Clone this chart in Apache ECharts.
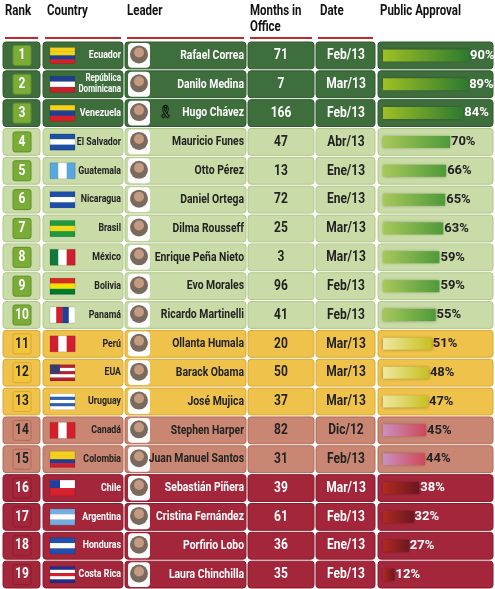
<!DOCTYPE html>
<html><head><meta charset="utf-8">
<script src="https://cdn.jsdelivr.net/npm/echarts@6/dist/echarts.min.js"></script>
<style>html,body{margin:0;padding:0;background:#fff}#c{width:495px;height:589px}</style>
</head><body><div id="c"></div>
<script>
const ranks = [1,2,3,4,5,6,7,8,9,10,11,12,13,14,15,16,17,18,19];
const countries = ['Ecuador','República\nDominicana','Venezuela','El Salvador','Guatemala','Nicaragua','Brasil','México','Bolivia','Panamá','Perú','EUA','Uruguay','Canadá','Colombia','Chile','Argentina','Honduras','Costa Rica'];
const leaders = ['Rafael Correa','Danilo Medina','Hugo Chávez','Mauricio Funes','Otto Pérez','Daniel Ortega','Dilma Rousseff','Enrique Peña Nieto','Evo Morales','Ricardo Martinelli','Ollanta Humala','Barack Obama','José Mujica','Stephen Harper','Juan Manuel Santos','Sebastián Piñera','Cristina Fernández','Porfirio Lobo','Laura Chinchilla'];
const months = [71,7,166,47,13,72,25,3,96,41,20,50,37,82,31,39,61,36,35];
const dates = ['Feb/13','Mar/13','Feb/13','Abr/13','Ene/13','Ene/13','Mar/13','Mar/13','Feb/13','Feb/13','Mar/13','Mar/13','Mar/13','Dic/12','Feb/13','Mar/13','Feb/13','Ene/13','Feb/13'];
const approval = [90,89,84,70,66,65,63,59,59,55,51,48,47,45,44,38,32,27,12];
const headers = ['Rank','Country','Leader','Months in\nOffice','Date','Public Approval'];

// styling
const flags = [
 ['h',['#f4d21a','#f4d21a','#1f3f95','#d8202a']],['h',['#1e3f8f','#fff','#c8202e']],['h',['#f4d21a','#1f3f95','#d8202a']],
 ['h',['#1f4fa0','#fff','#1f4fa0']],['v',['#5aa7e0','#fff','#5aa7e0']],['h',['#1e4fa8','#fff','#1e4fa8']],
 ['h',['#1f9a3a','#f2d81c','#1f9a3a']],['v',['#0f7a3c','#fff','#ce1f2f']],['h',['#d52b1e','#f4e100','#007a30']],
 ['v',['#fff','#d21f2f','#1e3f9a','#fff']],['v',['#d21f2f','#fff','#d21f2f']],['h',['#b22234','#fff','#b22234','#fff','#b22234']],
 ['h',['#fff','#2f5fb0','#fff','#2f5fb0','#fff']],['v',['#d51f2b','#fff','#d51f2b']],['h',['#f5d21a','#f5d21a','#1f3f95','#ce1f2f']],
 ['h',['#fff','#d3212d']],['h',['#74aee0','#fff','#74aee0']],['h',['#1f4fb0','#fff','#1f4fb0']],['h',['#1f2f8f','#fff','#d2202e','#fff','#1f2f8f']]
];
function grp(i){return i<3?0:i<10?1:i<13?2:i<15?3:4;}
const rowBg=['#3f6e3d','#c9dba6','#eec24b','#c98672','#a4263b'];
const rowBorder=['#2f5a2e','#b2c78c','#d9a935','#b26a58','#8a1c2e'];
const txtCol=['#fff','#222','#222','#222','#fff'];
const rankBox=['#7cac38','#7cac38','#f2c53d','#c98672','#a4263b'];
const rankTxt=['#fff','#fff','#222','#222','#fff'];
const barGrad=[['#9fc022','#2c7a30'],['#a8c85a','#4e9a3a'],['#eee8a0','#c8c020'],['#c890c0','#d04858'],['#b02a20','#6a1820']];
const F='Roboto,sans-serif';
const SX=0.8;

const cols=[[3,40],[43,123],[125,246],[248,314],[316,375],[378,493]];

function T(x,y,text,size,fill,align,lh){
 return {type:'text',x:x,y:y,scaleX:SX,originX:0,originY:0,
   style:{text:text,x:0,y:0,font:'bold '+size+'px '+F,fill:fill,align:align,verticalAlign:'middle',lineHeight:lh||size+2}};
}

const chart=echarts.init(document.getElementById('c'));
const graphic=[];
const hx=[5,47,127,250,320,380];
headers.forEach((h,k)=>{graphic.push({type:'text',x:hx[k],y:3,scaleX:0.82,style:{text:h,font:'bold 14px '+F,fill:'#111',lineHeight:16}});});
cols.forEach(c=>graphic.push({type:'rect',shape:{x:c[0]+2,y:37,width:c[1]-c[0]-4,height:2},style:{fill:c[0]>370?'#fff':'#c0282a'}}));

chart.setOption({
 animation:false,
 graphic:graphic,
 grid:[{left:0,right:0,top:41,bottom:0},{left:383,right:24,top:41,bottom:0}],
 xAxis:[{type:'value',min:0,max:92,show:false,gridIndex:1},{type:'value',min:0,max:495,show:false,gridIndex:0}],
 yAxis:[{type:'category',data:ranks,inverse:true,show:false,gridIndex:1},{type:'category',data:ranks,inverse:true,show:false,gridIndex:0}],
 series:[{
  type:'custom',xAxisIndex:1,yAxisIndex:1,
  data:ranks.map((r,i)=>[i]),
  renderItem:function(p,api){
   const i=api.value(0);const g=grp(i);
   const cy=api.coord([0,i])[1];const h=api.size([0,1])[1];
   const top=cy-h/2+1, hh=h-2;
   const ch=[];
   cols.forEach(c=>ch.push({type:'rect',shape:{x:c[0],y:top,width:c[1]-c[0],height:hh,r:3},style:{fill:rowBg[g],stroke:rowBorder[g],lineWidth:1}}));
   ch.push({type:'rect',shape:{x:13,y:cy-10,width:18,height:20,r:2},style:{fill:rankBox[g],stroke:g<2?'#5f8f2a':rowBorder[g]}});
   ch.push(T(22,cy,String(ranks[i]),15,rankTxt[g],'center'));
   const f=flags[i];const fx=50,fy=cy-8,fw=25,fh=16;const n=f[1].length;
   f[1].forEach((col,k)=>{ch.push({type:'rect',shape:f[0]==='h'?{x:fx,y:fy+k*fh/n,width:fw,height:fh/n+0.3}:{x:fx+k*fw/n,y:fy,width:fw/n+0.3,height:fh},style:{fill:col}});});
   ch.push({type:'rect',shape:{x:fx,y:fy,width:fw,height:fh},style:{fill:'none',stroke:'rgba(0,0,0,0.25)',lineWidth:0.5}});
   if(i===11||i===15) ch.push({type:'rect',shape:{x:fx,y:fy,width:10,height:i===11?9:8},style:{fill:i===11?'#3c3b6e':'#1f3f9a'}});
   ch.push(T(121,cy,countries[i],i===1?10:11,txtCol[g],'right',11));
   ch.push({type:'rect',shape:{x:128,y:top+1,width:22,height:hh-2,r:4},style:{fill:'#fff'}});
   ch.push({type:'circle',shape:{cx:139,cy:cy-1,r:9},style:{fill:'#7a6a5e'}});
   ch.push({type:'circle',shape:{cx:139,cy:cy-3,r:5},style:{fill:'#c49a80'}});
   if(i===2) ch.push(T(166,cy,'🎗',13,'#111','center'));
   ch.push(T(244,cy,leaders[i],13,txtCol[g],'right'));
   ch.push(T(281,cy,String(months[i]),15,txtCol[g],'center'));
   ch.push(T(346,cy,dates[i],15,txtCol[g],'center'));
   return {type:'group',children:ch};
  },z:1
 },{
  type:'bar',xAxisIndex:0,yAxisIndex:0,
  data:approval.map((v,i)=>{const g=grp(i);const c=barGrad[g];return {value:v,itemStyle:{color:new echarts.graphic.LinearGradient(0,0,1,0,[{offset:0,color:c[0]},{offset:1,color:c[1]}]),shadowBlur:3,shadowColor:'rgba(0,0,0,0.4)'},label:{color:txtCol[g]}};}),
  barWidth:12,z:5,
  label:{show:true,position:'right',distance:1,formatter:p=>p.value+'%',fontFamily:F,fontWeight:'bold',fontSize:13}
 }]
});
</script></body></html>
